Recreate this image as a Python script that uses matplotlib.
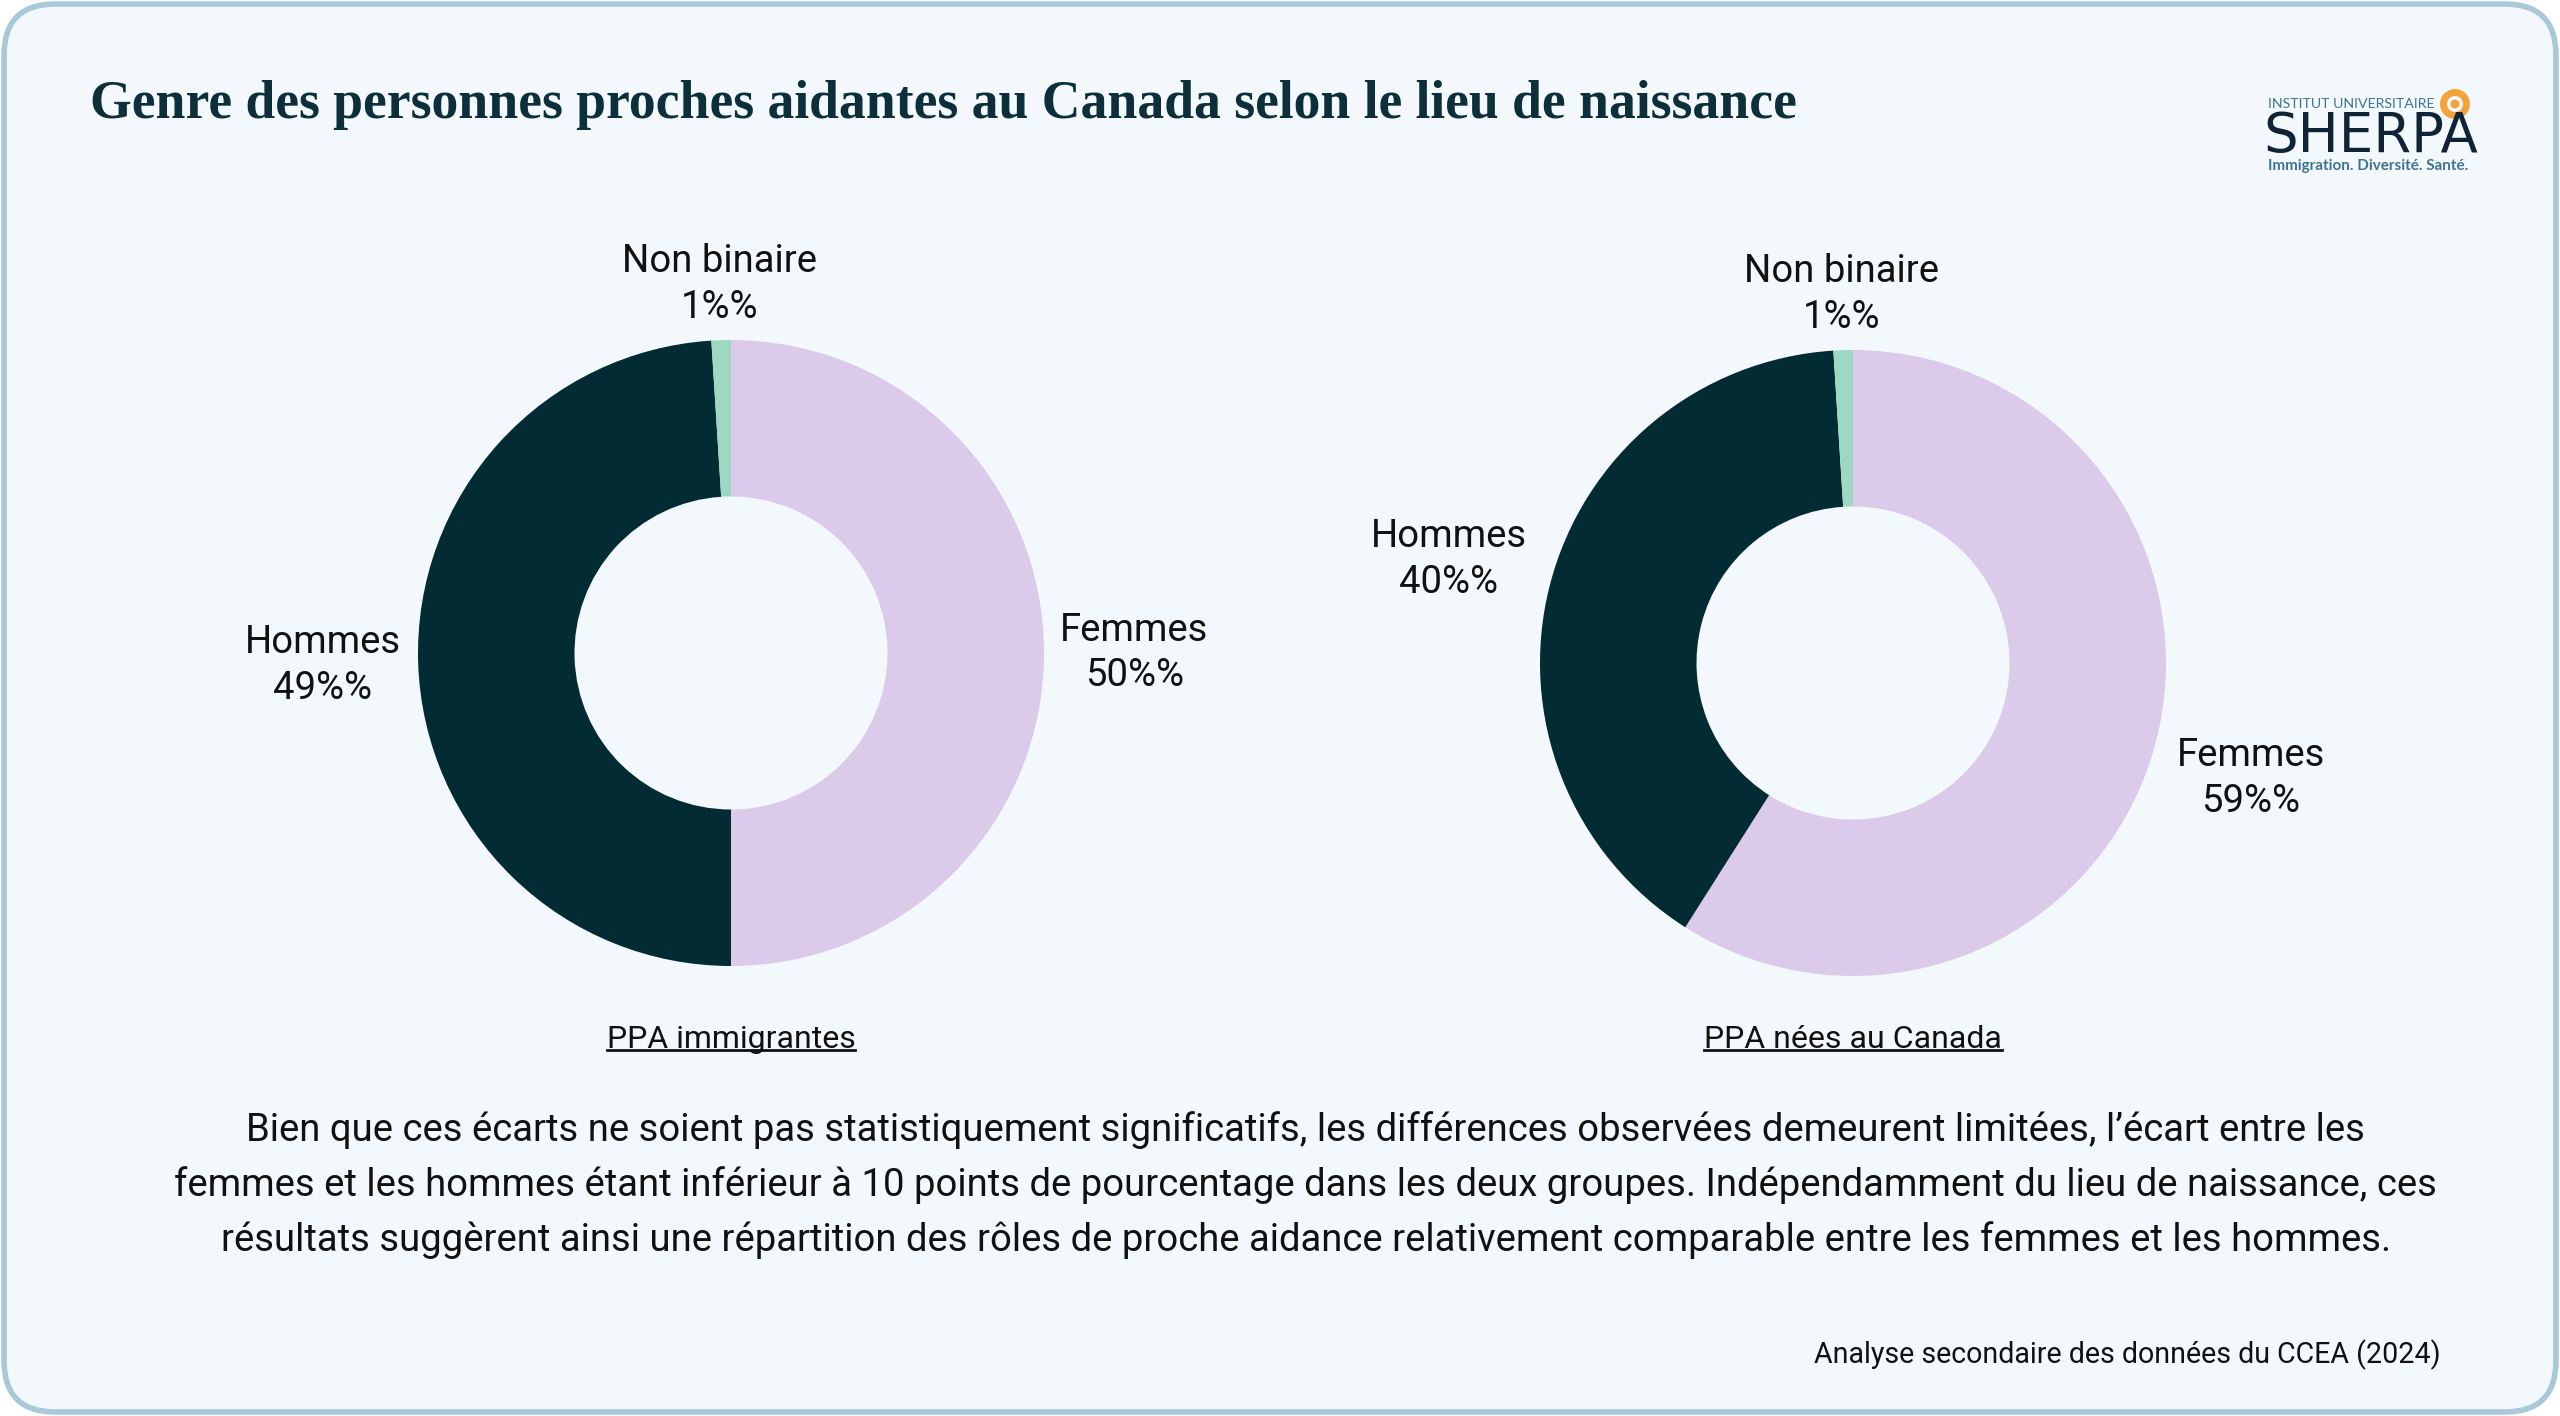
import numpy as np
import matplotlib
matplotlib.use("Agg")
import matplotlib.pyplot as plt
from matplotlib.patches import FancyBboxPatch, Circle
from matplotlib.lines import Line2D

# Données
categories = ["Femmes", "Hommes", "Non binaire"]
immigrantes = [50, 49, 1]
nees_canada = [59, 40, 1]
groupes = ["PPA immigrantes", "PPA nées au Canada"]
couleurs = ["#DCCAEB", "#022B33", "#9ED8C3"]

titre = "Genre des personnes proches aidantes au Canada selon le lieu de naissance"
texte = ("Bien que ces écarts ne soient pas statistiquement significatifs, les différences observées demeurent limitées, l’écart entre les\n"
         "femmes et les hommes étant inférieur à 10 points de pourcentage dans les deux groupes. Indépendamment du lieu de naissance, ces\n"
         "résultats suggèrent ainsi une répartition des rôles de proche aidance relativement comparable entre les femmes et les hommes.")
source = "Analyse secondaire des données du CCEA (2024)"

W, H = 2560, 1416
plt.rcParams['font.family'] = ['Roboto', 'DejaVu Sans']
fig = plt.figure(figsize=(W / 100, H / 100), dpi=100)
fig.patch.set_facecolor("white")

# fond arrondi
bg = FancyBboxPatch((4 / W, 4 / H), 1 - 8 / W, 1 - 8 / H,
                    boxstyle="round,pad=0,rounding_size=0.02",
                    transform=fig.transFigure, facecolor="#F3F8FC",
                    edgecolor="#A9C8D8", linewidth=4, mutation_aspect=W / H,
                    zorder=-5)
fig.patches.append(bg)

fig.text(90 / W, 1 - 105 / H, titre, fontsize=38.6, fontweight="bold",
         family="Liberation Serif", color="#0D2F3A", va="center", ha="left")

R = 313
half = 1.5
labels = []


def donut(cx, cy, vals, sous_titre):
    size = 2 * half * R
    ax = fig.add_axes([(cx - size / 2) / W, (H - cy - size / 2) / H, size / W, size / H])
    ax.patch.set_alpha(0)
    wedges, _ = ax.pie(vals, colors=couleurs, startangle=90, counterclock=False,
                       radius=1, wedgeprops=dict(width=0.5, linewidth=0))
    ax.set_xlim(-half, half)
    ax.set_ylim(-half, half)
    ax.set_aspect("equal")
    ax.axis("off")
    for w, cat, v in zip(wedges, categories, vals):
        ang = np.deg2rad((w.theta1 + w.theta2) / 2)
        t = ax.text(0, 0, f"{cat}\n{v}%%", ha="center", va="center", fontsize=27.5,
                    multialignment="center", linespacing=1.3, color="#111111")
        labels.append((t, ang))
    t = fig.text(cx / W, 1 - 1040 / H, sous_titre, ha="center", va="center",
                 fontsize=23, color="#111111")
    return t


subs = [donut(731, 653, immigrantes, groupes[0]),
        donut(1853, 663, nees_canada, groupes[1])]

fig.text(0.51, 1 - 1185 / H, texte, ha="center", va="center", fontsize=27.5,
         linespacing=1.56, multialignment="center", color="#111111")
fig.text(2441 / W, 1 - 1355 / H, source, ha="right", va="center", fontsize=20.6,
         color="#111111")

# logo SHERPA
fig.text(2268 / W, 1 - 104 / H, "INSTITUT UNIVERSITAIRE", fontsize=10.2,
         color="#3F7393", ha="left", va="center", family="Lato")
fig.text(2263 / W, 1 - 137 / H, "SHERPA", fontsize=39.3, color="#0F2236",
         ha="left", va="center", family="DejaVu Sans")
fig.text(2268 / W, 1 - 166 / H, "Immigration. Diversité. Santé.", fontsize=11,
         color="#3F7393", ha="left", va="center", family="Lato", fontweight="bold")
fig.patches.append(Circle((2455, H - 104), 15, transform=None, facecolor="#F2A33A", edgecolor="none"))
fig.patches.append(Circle((2455, H - 104), 8, transform=None, facecolor="#F3F8FC", edgecolor="none"))
fig.patches.append(Circle((2455, H - 104), 4.5, transform=None, facecolor="#F2A33A", edgecolor="none"))

fig.canvas.draw()
r = fig.canvas.get_renderer()

# étiquettes placées à l'extérieur de l'anneau selon leur taille
pad_x, pad_y = 16, 11
for t, ang in labels:
    bb = t.get_window_extent(r)
    c, s = abs(np.cos(ang)), abs(np.sin(ang))
    d = R + pad_x * c + pad_y * s + c * bb.width / 2 + s * bb.height / 2
    t.set_position((d / R * np.cos(ang), d / R * np.sin(ang)))

# soulignement des sous-titres
for t in subs:
    bb = t.get_window_extent(r)
    y = bb.y0 + 0.17 * bb.height
    fig.lines.append(Line2D([bb.x0, bb.x1], [y, y], transform=None, color="#111111", linewidth=2))

fig.savefig("out.png", dpi=100, facecolor=fig.get_facecolor())
